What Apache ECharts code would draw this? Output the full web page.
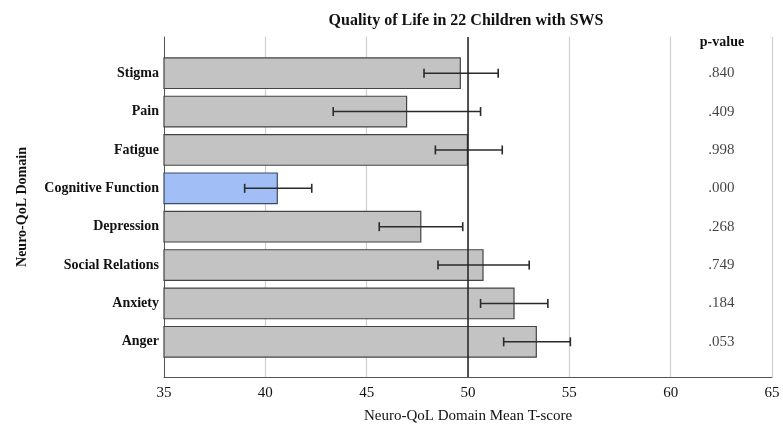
<!DOCTYPE html>
<html>
<head>
<meta charset="utf-8">
<script src="https://cdn.jsdelivr.net/npm/echarts@6/dist/echarts.min.js"></script>
<style>
    html, body { margin: 0; padding: 0; background: #fff; }
    #chart { width: 783px; height: 430px; }
</style>
</head>
<body>
<div id="chart"></div>
<script>
// data
const domains = ['Stigma', 'Pain', 'Fatigue', 'Cognitive Function', 'Depression', 'Social Relations', 'Anxiety', 'Anger'];
const means = [49.65, 47.0, 50.0, 40.62, 47.7, 50.77, 52.3, 53.4];
const ciLow = [47.83, 43.35, 48.39, 38.98, 45.62, 48.52, 50.62, 51.76];
const ciHigh = [51.49, 50.62, 51.69, 42.29, 49.74, 53.02, 53.94, 55.05];
const pValues = ['.840', '.409', '.998', '.000', '.268', '.749', '.184', '.053'];
const xTicks = [35, 40, 45, 50, 55, 60, 65];

const serif = '"Liberation Serif", "DejaVu Serif", serif';
const pColumnX = 62.5; // where the p-value column sits on the T-score scale

const chart = echarts.init(document.getElementById('chart'));

const option = {
    animation: false,
    backgroundColor: '#fff',
    title: {
        text: 'Quality of Life in 22 Children with SWS',
        left: 461,
        top: 8,
        textAlign: 'center',
        textStyle: { fontFamily: serif, fontSize: 16, fontWeight: 'bold', color: '#111' }
    },
    graphic: [{
        type: 'text',
        x: 722,
        y: 42,
        style: {
            text: 'p-value',
            font: 'bold 14px ' + serif,
            fill: '#111',
            textAlign: 'center',
            textVerticalAlign: 'middle'
        }
    }],
    grid: [
        // bars and labels
        { left: 164, right: 11, top: 54, bottom: 69 },
        // frame, gridlines and axes
        { left: 164, right: 11, top: 37, bottom: 53 }
    ],
    xAxis: [{
        gridIndex: 0,
        type: 'value',
        min: 35,
        max: 65,
        show: false
    }, {
        gridIndex: 1,
        type: 'value',
        min: xTicks[0],
        max: xTicks[xTicks.length - 1],
        interval: 5,
        name: 'Neuro-QoL Domain Mean T-score',
        nameLocation: 'middle',
        nameGap: 32,
        nameTextStyle: { fontFamily: serif, fontSize: 15, color: '#111' },
        axisLine: { show: true, lineStyle: { color: '#555', width: 1 } },
        axisTick: { show: false },
        axisLabel: { fontFamily: serif, fontSize: 15, color: '#111', margin: 9 },
        splitLine: { show: true, lineStyle: { color: '#cfcfcf', width: 1.2 } }
    }],
    yAxis: [{
        gridIndex: 0,
        type: 'category',
        data: domains,
        inverse: true,
        axisLine: { show: false },
        axisTick: { show: false },
        axisLabel: { fontFamily: serif, fontSize: 14, fontWeight: 'bold', color: '#111', margin: 5 }
    }, {
        gridIndex: 1,
        type: 'value',
        min: 0,
        max: 1,
        name: 'Neuro-QoL Domain',
        nameLocation: 'middle',
        nameGap: 135,
        nameRotate: 90,
        nameTextStyle: { fontFamily: serif, fontSize: 14, fontWeight: 'bold', color: '#111' },
        axisLine: { show: true, lineStyle: { color: '#555', width: 1 } },
        axisTick: { show: false },
        axisLabel: { show: false },
        splitLine: { show: false }
    }],
    series: [{
        type: 'bar',
        xAxisIndex: 0,
        yAxisIndex: 0,
        barCategoryGap: '17%',
        data: means.map((v, i) => ({
            value: v,
            itemStyle: i === 3
                ? { color: '#a1bef6', borderColor: '#3c4a66', borderWidth: 1.2 }
                : { color: '#c3c3c3', borderColor: '#444', borderWidth: 1.2 }
        })),
        z: 2
    }, {
        // reference line at 50, full height of the frame
        type: 'line',
        xAxisIndex: 1,
        yAxisIndex: 1,
        data: [],
        markLine: {
            silent: true,
            symbol: 'none',
            label: { show: false },
            lineStyle: { color: '#222', width: 1.5, type: 'solid' },
            data: [{ xAxis: 50 }]
        },
        z: 3
    }, {
        // 95% CI whiskers
        type: 'custom',
        xAxisIndex: 0,
        yAxisIndex: 0,
        data: domains.map((d, i) => [i, ciLow[i], ciHigh[i]]),
        renderItem: function (params, api) {
            const idx = api.value(0);
            const lo = api.coord([api.value(1), idx]);
            const hi = api.coord([api.value(2), idx]);
            const cap = 4.5;
            const style = { stroke: '#2a2a2a', lineWidth: 1.6 };
            return {
                type: 'group',
                children: [
                    { type: 'line', shape: { x1: lo[0], y1: lo[1], x2: hi[0], y2: hi[1] }, style: style },
                    { type: 'line', shape: { x1: lo[0], y1: lo[1] - cap, x2: lo[0], y2: lo[1] + cap }, style: style },
                    { type: 'line', shape: { x1: hi[0], y1: hi[1] - cap, x2: hi[0], y2: hi[1] + cap }, style: style }
                ]
            };
        },
        z: 4
    }, {
        // p-value column
        type: 'scatter',
        xAxisIndex: 0,
        yAxisIndex: 0,
        symbolSize: 0,
        data: domains.map((d, i) => [pColumnX, i]),
        label: {
            show: true,
            position: 'inside',
            formatter: (p) => pValues[p.dataIndex],
            fontFamily: serif,
            fontSize: 15,
            color: '#111'
        },
        silent: true
    }]
};

chart.setOption(option);
</script>
</body>
</html>
